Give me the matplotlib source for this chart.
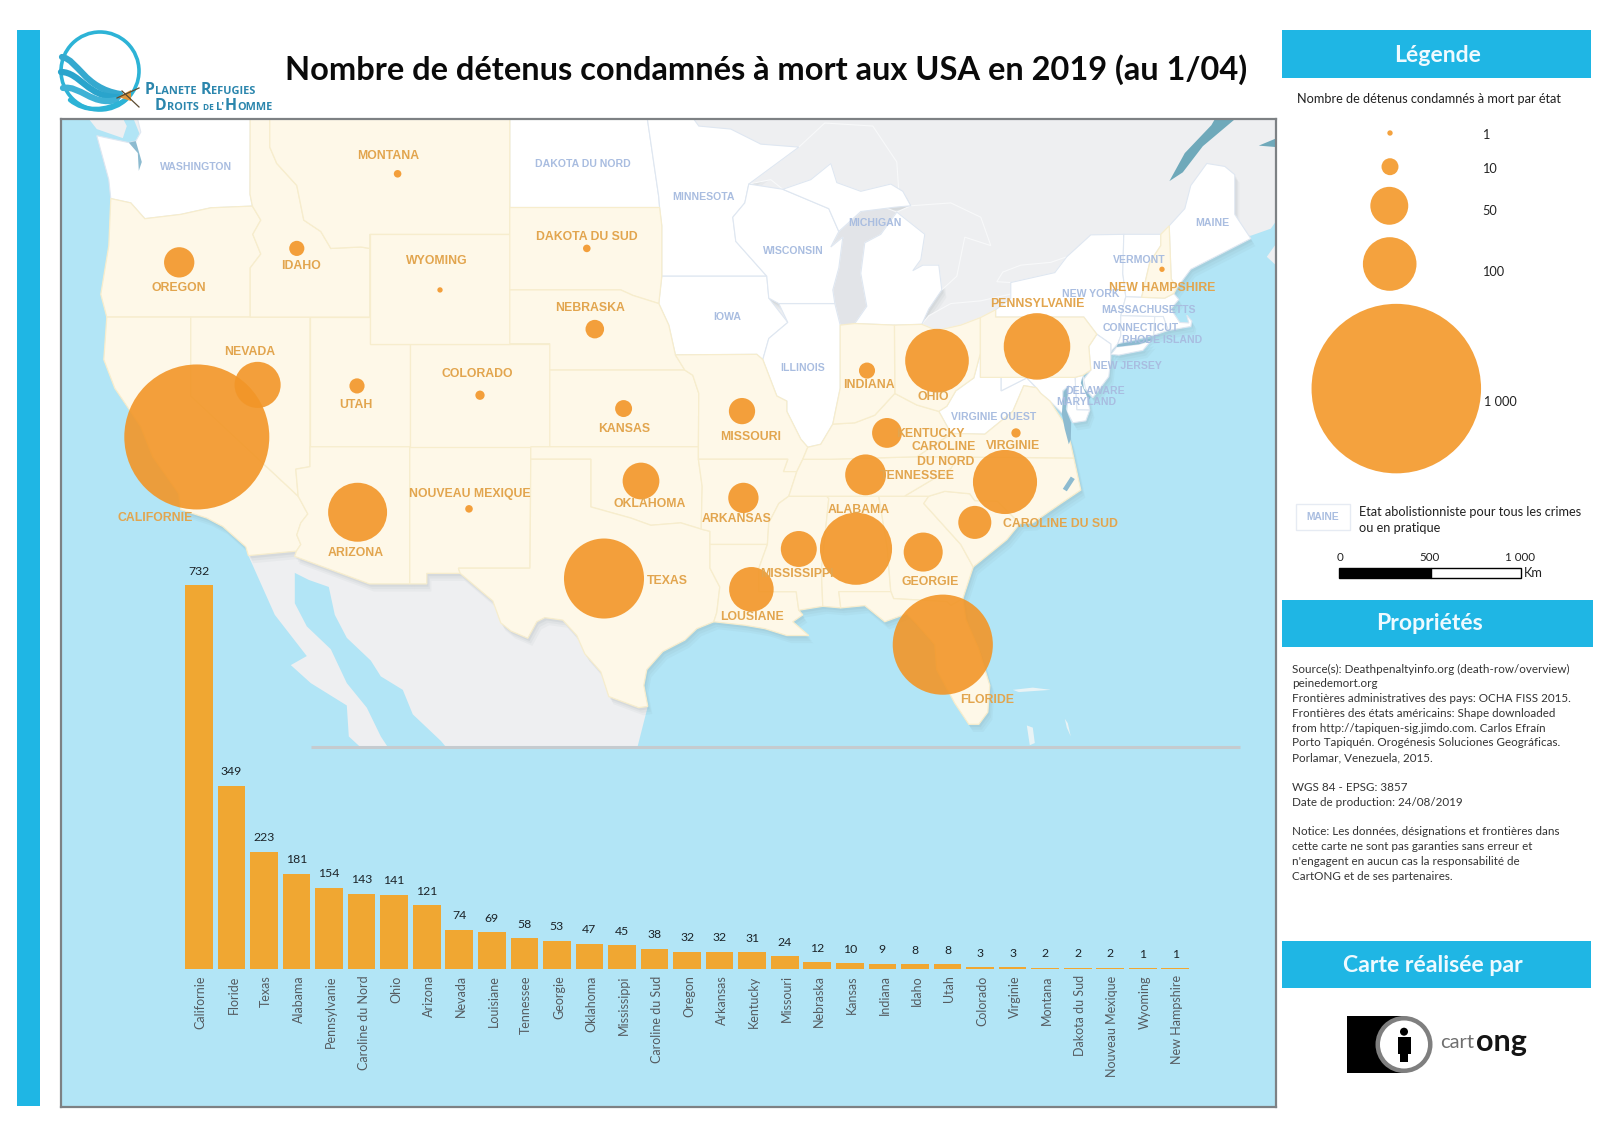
import numpy as np
import matplotlib
matplotlib.use("Agg")
import matplotlib.pyplot as plt
from matplotlib.patches import Circle, Polygon, Rectangle, PathPatch
from matplotlib.path import Path
from matplotlib.transforms import ScaledTranslation

# ---------- data ----------
states = ["Californie","Floride","Texas","Alabama","Pennsylvanie","Caroline du Nord","Ohio","Arizona",
          "Nevada","Louisiane","Tennessee","Georgie","Oklahoma","Mississippi","Caroline du Sud","Oregon",
          "Arkansas","Kentucky","Missouri","Nebraska","Kansas","Indiana","Idaho","Utah","Colorado",
          "Virginie","Montana","Dakota du Sud","Nouveau Mexique","Wyoming","New Hampshire"]
prisoners = [732,349,223,181,154,143,141,121,74,69,58,53,47,45,38,32,32,31,24,12,10,9,8,8,3,3,2,2,2,1,1]
# state location (longitude, latitude) of each bubble, same order as states
state_lon = [-119.7,-82.4,-99.34,-86.74,-77.69,-79.29,-82.69,-111.66,-116.66,-91.97,-86.26,-83.38,-97.49,
             -89.6,-80.8,-120.58,-92.37,-85.19,-92.44,-99.8,-98.36,-86.19,-114.7,-111.69,-105.54,-78.74,
             -109.66,-100.2,-106.09,-107.54,-71.44]
state_lat = [37.39,28.7,31.56,32.82,40.9,35.58,40.36,34.34,39.43,31.1,35.87,32.68,35.62,32.81,33.92,44.0,
             34.93,37.55,38.41,41.55,38.51,39.98,44.5,39.39,39.03,37.55,47.1,44.5,34.48,43.0,43.75]

legend_values = [1,10,50,100,1000]
legend_labels = ["1","10","50","100","1 000"]
scale_ticks = ["0","500","1 000"]

RETENTION = {
 "OR":[(-124,46.25),(-123,46.1),(-122.3,45.55),(-120.5,45.7),(-119,45.93),(-116.92,45.99),(-116.5,45.5),(-116.9,45),(-116.5,44.3),(-117.03,43.8),(-117.03,42),(-124.2,42),(-124.5,42.84),(-124.1,44.6)],
 "CA":[(-124.2,42),(-124.35,40.4),(-123.8,39.3),(-122.5,37.8),(-121.9,36.6),(-120.6,35.1),(-120.5,34.45),(-119.2,34.1),(-118.4,33.75),(-117.25,32.9),(-117.12,32.53),(-114.72,32.72),(-114.5,33),(-114.7,33.4),(-114.5,33.9),(-114.15,34.27),(-114.63,35),(-120,39),(-120,42)],
 "NV":[(-120,42),(-114.04,42),(-114.04,36.2),(-114.75,36.1),(-114.63,35),(-120,39)],
 "UT":[(-114.04,42),(-111.05,42),(-111.05,41),(-109.05,41),(-109.05,37),(-114.04,37)],
 "AZ":[(-114.04,37),(-109.05,37),(-109.05,31.33),(-111.07,31.33),(-114.81,32.5),(-114.72,32.72),(-114.5,33),(-114.7,33.4),(-114.5,33.9),(-114.15,34.27),(-114.63,35),(-114.75,36.1),(-114.04,36.2)],
 "NM":[(-109.05,37),(-103,37),(-103.04,32),(-106.62,32),(-106.53,31.78),(-108.2,31.78),(-108.2,31.33),(-109.05,31.33)],
 "CO":[(-109.05,41),(-102.05,41),(-102.05,37),(-109.05,37)],
 "WY":[(-111.05,45),(-104.05,45),(-104.05,41),(-111.05,41)],
 "ID":[(-117.03,49.2),(-116.05,49.2),(-116.05,48),(-115.7,47.45),(-114.7,46.7),(-114.35,45.5),(-113.5,45.1),(-113,44.5),(-111.5,44.55),(-111.05,44.5),(-111.05,42),(-117.03,42),(-117.03,43.8),(-116.5,44.3),(-116.9,45),(-116.5,45.5),(-116.92,45.99),(-117.04,46.4)],
 "MT":[(-116.05,49.2),(-104.05,49.2),(-104.05,45),(-111.05,45),(-111.05,44.5),(-111.5,44.55),(-113,44.5),(-113.5,45.1),(-114.35,45.5),(-114.7,46.7),(-115.7,47.45),(-116.05,48)],
 "SD":[(-104.05,45.94),(-96.56,45.94),(-96.45,45.3),(-96.45,43.5),(-96.6,42.5),(-97.9,42.8),(-98.5,43),(-104.05,43)],
 "NE":[(-104.05,43),(-98.5,43),(-97.9,42.8),(-96.6,42.5),(-96.1,41.7),(-95.77,40.58),(-95.3,40),(-102.05,40),(-102.05,41),(-104.05,41)],
 "KS":[(-102.05,40),(-95.3,40),(-94.9,39.8),(-94.6,39.1),(-94.62,37),(-102.05,37)],
 "OK":[(-103,37),(-94.62,37),(-94.62,36.5),(-94.43,35.4),(-94.48,33.64),(-95.5,33.9),(-97,33.8),(-98,34.1),(-100,34.56),(-100,36.5),(-103,36.5)],
 "TX":[(-103,36.5),(-100,36.5),(-100,34.56),(-98,34.1),(-97,33.8),(-95.5,33.9),(-94.48,33.64),(-94.04,33.55),(-94.04,33),(-94.04,32),(-93.55,31.2),(-93.7,30.1),(-93.85,29.7),(-94.7,29.4),(-95.3,28.9),(-96.4,28.4),(-97.2,27.6),(-97.35,26.9),(-97.15,25.96),(-97.6,25.9),(-99.1,26.4),(-99.5,27.5),(-100.3,28.3),(-100.7,29.1),(-101.4,29.77),(-102.3,29.88),(-102.7,29.7),(-103.15,28.98),(-104,29.3),(-104.5,29.65),(-104.9,30.6),(-106.53,31.78),(-106.62,32),(-103.04,32)],
 "MO":[(-95.77,40.58),(-91.7,40.6),(-91.4,40.4),(-90.7,39),(-90.2,38.8),(-90.2,38.4),(-89.5,37.3),(-89.15,36.98),(-89.4,36.5),(-89.7,36),(-90.37,36),(-90.15,36.5),(-94.62,36.5),(-94.62,37),(-94.6,39.1),(-94.9,39.8),(-95.3,40)],
 "AR":[(-94.62,36.5),(-90.15,36.5),(-90.37,36),(-89.7,36),(-90.1,35),(-90.6,34.7),(-91.1,33.9),(-91.17,33),(-94.04,33),(-94.04,33.55),(-94.48,33.64),(-94.43,35.4)],
 "LA":[(-94.04,33),(-91.17,33),(-91.6,31.99),(-91.6,31),(-89.73,31),(-89.6,30.2),(-89.4,30),(-89.9,29.7),(-89.1,29.1),(-90.2,29.1),(-91.3,29.4),(-92.3,29.55),(-93.85,29.7),(-93.7,30.1),(-93.55,31.2),(-94.04,32)],
 "MS":[(-91.17,33),(-91.1,33.9),(-90.6,34.7),(-90.1,35),(-88.2,35),(-88.1,34.9),(-88.47,31.9),(-88.4,30.37),(-89.6,30.2),(-89.73,31),(-91.6,31),(-91.6,31.99)],
 "AL":[(-88.2,35),(-85.6,35),(-85.18,32.87),(-85,31),(-87.6,31),(-87.5,30.3),(-88.4,30.37),(-88.47,31.9),(-88.1,34.9)],
 "GA":[(-85.6,35),(-83.1,35),(-83.35,34.7),(-81.5,33),(-80.88,32.05),(-81.4,30.7),(-82,30.4),(-82.2,30.57),(-84.86,30.7),(-85,31),(-85.18,32.87)],
 "FL":[(-87.6,31),(-85,31),(-84.86,30.7),(-82.2,30.57),(-82,30.4),(-81.4,30.7),(-81.25,29.8),(-80.6,28.5),(-80.05,26.9),(-80.15,25.7),(-80.6,25.15),(-81.1,25.15),(-81.8,26.1),(-82.7,27.6),(-82.8,28.7),(-83.7,29.6),(-84.2,30.05),(-85.3,29.7),(-86.3,30.4),(-87.5,30.3)],
 "SC":[(-83.35,34.7),(-83.1,35),(-82.3,35.2),(-81.05,35.1),(-80.8,34.82),(-79.67,34.8),(-78.55,33.87),(-79.2,33.2),(-80.88,32.05),(-81.5,33)],
 "NC":[(-84.32,35),(-83.1,35),(-82.3,35.2),(-81.05,35.1),(-80.8,34.82),(-79.67,34.8),(-78.55,33.87),(-77.9,33.9),(-76.5,34.7),(-75.5,35.25),(-75.85,36.55),(-81.68,36.59),(-82,36.12)],
 "TN":[(-90.1,35),(-89.7,36),(-89.4,36.5),(-88.05,36.5),(-83.68,36.6),(-81.68,36.59),(-82,36.12),(-84.32,35),(-85.6,35),(-88.2,35)],
 "KY":[(-89.4,36.5),(-89.15,36.98),(-88.5,37.1),(-87.9,37.9),(-86.8,37.95),(-85.8,38.25),(-84.8,39.1),(-83.7,38.65),(-82.6,38.4),(-82,37.55),(-81.96,37.53),(-83.68,36.6),(-88.05,36.5)],
 "VA":[(-83.68,36.6),(-81.68,36.59),(-75.85,36.55),(-76,37.1),(-76.3,37.9),(-77.04,38.8),(-77.5,39.1),(-77.72,39.32),(-78.35,39.4),(-78.9,38.4),(-80.3,37.5),(-81.96,37.53)],
 "OH":[(-84.82,41.7),(-83.45,41.73),(-82.7,41.5),(-81.5,41.7),(-80.52,41.98),(-80.52,40.64),(-80.85,39.7),(-81.75,39.2),(-82.2,38.6),(-82.6,38.4),(-83.7,38.65),(-84.8,39.1)],
 "IN":[(-87.53,41.7),(-86.8,41.76),(-84.82,41.7),(-84.8,39.1),(-85.8,38.25),(-86.8,37.95),(-87.9,37.9),(-87.53,39.3)],
 "PA":[(-80.52,41.98),(-79.76,42.27),(-79.76,42),(-75.35,42),(-74.7,41.36),(-75.1,40.9),(-75,40),(-75.4,39.8),(-75.79,39.72),(-80.52,39.72),(-80.52,40.64)],
 "NH":[(-71.5,45),(-71.08,45.3),(-70.98,43.4),(-70.7,43.07),(-70.85,42.87),(-71.3,42.7),(-72.46,42.73),(-72.05,44),(-71.5,44.6)],
}
ABOLITION = {
 "WA":[(-122.76,49.2),(-117.03,49.2),(-117.04,46.4),(-116.92,45.99),(-119,45.93),(-120.5,45.7),(-122.3,45.55),(-123,46.1),(-124,46.25),(-124.1,46.9),(-124.7,48.38),(-123.1,48.15),(-122.75,48.2),(-122.5,48.5)],
 "ND":[(-104.05,49.2),(-97.23,49.2),(-96.6,46.3),(-96.56,45.94),(-104.05,45.94)],
 "MN":[(-97.23,49.2),(-95.15,49.2),(-94.6,48.7),(-93,48.6),(-91.5,48.1),(-89.6,48),(-92.1,46.75),(-92.3,46.1),(-92.9,45.6),(-92.75,44.75),(-91.2,43.5),(-96.45,43.5),(-96.45,45.3),(-96.56,45.94),(-96.6,46.3)],
 "IA":[(-96.45,43.5),(-91.2,43.5),(-91.1,42.7),(-90.15,41.8),(-91.1,41.2),(-91.4,40.4),(-91.7,40.6),(-95.77,40.58),(-96.1,41.7),(-96.6,42.5)],
 "IL":[(-90.6,42.5),(-87.8,42.5),(-87.53,41.7),(-87.53,39.3),(-87.9,37.9),(-88.5,37.1),(-89.15,36.98),(-89.5,37.3),(-90.2,38.4),(-90.2,38.8),(-90.7,39),(-91.4,40.4),(-91.1,41.2),(-90.15,41.8)],
 "WI":[(-92.1,46.75),(-90.4,46.57),(-88.1,45.9),(-87.6,45.1),(-88,44.55),(-87.4,44.9),(-87.6,43.8),(-87.9,43),(-87.8,42.5),(-90.6,42.5),(-91.1,42.7),(-91.2,43.5),(-92.75,44.75),(-92.9,45.6),(-92.3,46.1)],
 "MI":[(-86.8,41.76),(-84.82,41.7),(-83.45,41.73),(-83.1,42.3),(-82.45,43),(-82.6,43.9),(-83.4,43.9),(-83.9,43.7),(-83.5,44.1),(-83.3,45),(-84.7,45.78),(-85.5,45),(-86.3,44.7),(-86.5,43.6),(-86.2,42.4)],
 "MI_up":[(-90.4,46.57),(-89,46.9),(-88,47.45),(-87.7,46.8),(-86.5,46.5),(-85,46.75),(-84.4,46.5),(-84,46),(-84.8,45.95),(-86.5,45.8),(-87.6,45.1),(-88.1,45.9)],
 "WV":[(-82.6,38.4),(-82,37.55),(-81.96,37.53),(-80.3,37.5),(-78.9,38.4),(-78.35,39.4),(-77.72,39.32),(-78.2,39.7),(-79.48,39.2),(-79.48,39.72),(-80.52,39.72),(-80.52,40.64),(-80.85,39.7),(-81.75,39.2),(-82.2,38.6)],
 "NY":[(-79.76,42.27),(-79,42.7),(-79,43.27),(-76.8,43.63),(-76.2,44.2),(-75,44.98),(-73.35,45),(-73.4,43.6),(-73.25,42.75),(-73.5,42.05),(-73.5,41.3),(-73.65,41),(-74,40.7),(-74,40.99),(-74.7,41.36),(-75.35,42),(-79.76,42)],
 "NY_li":[(-74,40.6),(-73.7,40.88),(-72.6,40.98),(-72,41.1),(-72.4,40.75),(-73.6,40.57)],
 "VT":[(-73.35,45),(-71.5,45),(-71.5,44.6),(-72.05,44),(-72.46,42.73),(-73.25,42.75),(-73.4,43.6)],
 "ME":[(-71.08,45.3),(-70.3,45.9),(-70,46.7),(-69.2,47.45),(-68.3,47.35),(-67.8,47.07),(-67.8,45.7),(-67,44.85),(-68.5,44.3),(-70,43.75),(-70.7,43.07),(-70.98,43.4)],
 "MA":[(-73.25,42.75),(-72.46,42.73),(-71.3,42.7),(-70.85,42.87),(-70.6,42.65),(-71,42.3),(-70.55,41.8),(-70.1,41.78),(-70.2,42.07),(-69.95,41.85),(-70,41.65),(-71.13,41.5),(-71.38,42.02),(-71.8,42.02),(-73.5,42.05)],
 "CT":[(-73.5,42.05),(-71.8,42.02),(-71.85,41.32),(-73.65,41),(-73.5,41.3)],
 "RI":[(-71.8,42.02),(-71.38,42.02),(-71.13,41.5),(-71.85,41.32)],
 "NJ":[(-74.7,41.36),(-74,40.99),(-74,40.45),(-74.1,39.75),(-74.9,38.93),(-75.5,39.5),(-75,40),(-75.1,40.9)],
 "DE":[(-75.79,39.72),(-75.4,39.8),(-75.05,38.45),(-75.7,38.46)],
 "MD":[(-79.48,39.72),(-75.79,39.72),(-75.7,38.46),(-75.05,38.45),(-75.25,38.03),(-75.9,37.95),(-76.2,38.4),(-76.1,39.4),(-76.4,39.2),(-76.4,38.3),(-77.04,38.8),(-77.5,39.1),(-77.72,39.32),(-78.2,39.7),(-79.48,39.2)],
}
CANADA = [(-122.9,49),(-122.9,49.6),(-64,49.6),(-64,45.6),(-65.7,45.5),(-66,45.2),(-67,44.95),(-70,45),(-75,42),(-90,40),(-100,46),(-122,47.5)]
VANCOUVER = [(-125.9,49.6),(-124.7,48.6),(-123.4,48.3),(-123.2,48.7),(-123.9,49.6)]
NOVA_SCOTIA = [(-64,45.2),(-65.75,44.65),(-66.2,44.2),(-65.3,43.6),(-64,44.2)]
MEXICO = [(-117.12,32.53),(-114.72,32.72),(-114.81,32.5),(-111.07,31.33),(-108.2,31.33),(-108.2,31.78),(-106.53,31.78),(-104.9,30.6),(-104.5,29.65),(-104,29.3),(-103.15,28.98),(-102.7,29.7),(-102.3,29.88),(-101.4,29.77),(-100.7,29.1),(-100.3,28.3),(-99.5,27.5),(-99.1,26.4),(-97.6,25.9),(-97.15,25.96),(-97.7,24),(-97.8,22),(-105,22),(-106.4,23.2),(-107.5,24.4),(-108.9,25.6),(-109.4,26.7),(-110.5,27.3),(-111,28),(-112.2,29),(-112.8,30),(-113.1,31.2),(-114.1,31.5),(-114.8,31.8),(-114.8,30.5),(-114.2,29.5),(-113,28.5),(-112.2,27),(-111.2,25.9),(-110.5,24.6),(-109.5,23.2),(-110.2,23),(-112.1,24.6),(-112.2,26),(-114,27),(-115,27.8),(-114.2,28.2),(-115.8,30)]
LAKES = {
 "Superior":[(-92.1,46.75),(-91,46.9),(-90.4,46.57),(-89,46.9),(-88,47.45),(-87.7,46.8),(-86.5,46.5),(-85,46.75),(-84.6,46.5),(-84.7,47.5),(-85.9,48.7),(-88.3,48.8),(-89.6,48),(-91,47.3)],
 "Huron":[(-84.7,45.78),(-83.3,45),(-83.5,44.1),(-83.9,43.7),(-83.4,43.9),(-82.6,43.9),(-82.45,43),(-81.7,43.5),(-81.3,44.9),(-80,44.6),(-80.5,45.6),(-82,46.1),(-84,46)],
 "Erie":[(-83.45,41.73),(-83.1,42.05),(-82,42.5),(-80.5,42.6),(-79,42.85),(-79,42.7),(-79.76,42.27),(-80.52,41.98),(-81.5,41.7),(-82.7,41.5)],
 "Ontario":[(-79.7,43.3),(-79,43.27),(-76.8,43.63),(-76.2,44.2),(-77,44),(-78.5,43.9),(-79.4,43.65)],
}
LAKE_MICHIGAN = [(-86.5,45.8),(-87.6,45.1),(-88,44.55),(-87.4,44.9),(-87.6,43.8),(-87.9,43),(-87.8,42.5),(-87.53,41.7),(-87.2,41.65),(-86.8,41.76),(-86.2,42.4),(-86.5,43.6),(-86.3,44.7),(-85.5,45),(-84.7,45.78),(-85.5,46)]
RIVERS = {
 "StLawrence":[(-71.07,46.85),(-70.3,47.8),(-68.97,48.73),(-68.56,49.2),(-67.3,49.2),(-69.4,48.03),(-70.4,47.15)],
 "Chaleur":[(-66.6,48.05),(-65.7,48.3),(-65.7,48.0)],
}
SEA_CUTS = {
 "Puget":[(-123.1,48.15),(-122.75,48.2),(-122.45,47.5),(-122.6,47.2),(-122.65,47.8)],
 "Chesapeake":[(-76.1,39.4),(-76.35,39.15),(-76.45,38.3),(-76.3,37.7),(-76.1,37.1),(-76,37.3),(-75.98,37.95),(-76.25,38.5)],
 "Delaware":[(-75.5,39.5),(-75.42,39.75),(-75.35,39.3),(-75,38.95),(-75.1,38.85)],
 "LongIslandS":[(-73.65,40.98),(-72,41.2),(-72,41.12),(-72.6,40.98),(-73.7,40.88)],
 "Pamlico":[(-76.2,35.2),(-75.8,35.7),(-76,35.8),(-76.4,35.3)],
}
ISLANDS = [[(-78.2,25.1),(-77.9,25),(-77.8,24.3),(-78.05,24.2)],[(-77.9,26.8),(-77,26.7),(-78.6,26.6),(-78.9,26.7)],[(-76.3,25.4),(-76.15,25.2),(-76,24.6),(-76.2,25)]]

# map labels (text, x px, y px)
retention_labels = [("MONTANA",388.6,155),("OREGON",178.4,287),("IDAHO",300.8,264.3),("WYOMING",437,259.7),
 ("DAKOTA DU SUD",586.5,235.7),("NEBRASKA",590,307),("NEVADA",250,351),("UTAH",355.5,403.3),("COLORADO",477.5,372.3),
 ("KANSAS",624.5,427.3),("OKLAHOMA",649.4,502.3),("NOUVEAU MEXIQUE",469.4,493),("CALIFORNIE",155,516.7),("ARIZONA",356,551.7),
 ("TEXAS",667,580),("PENNSYLVANIE",1037.5,303),("OHIO",933,395.7),("INDIANA",869,384),("MISSOURI",750.6,436),
 ("KENTUCKY",930.6,432.3),("CAROLINE",943.7,445.7),("DU NORD",946,460.3),("VIRGINIE",1012.7,445),("TENNESSEE",917.6,475),
 ("ALABAMA",859,508.3),("ARKANSAS",736.7,518),("MISSISSIPPI",797,572.7),("GEORGIE",929.8,580.3),("CAROLINE DU SUD",1060.4,522.3),
 ("NEW HAMPSHIRE",1162.4,286.7),("LOUSIANE",752,616.2),("FLORIDE",986.7,698.6)]
abolition_labels = [("WASHINGTON",196.3,165.7),("DAKOTA DU NORD",582.4,163),("MINNESOTA",703.7,195.3),("MICHIGAN",875,222),
 ("WISCONSIN",793.5,249.7),("IOWA",727,315.3),("ILLINOIS",803,367),("VERMONT",1139,259),("MAINE",1212,222),("NEW YORK",1091,292.7),
 ("MASSACHUSETTS",1149,309),("CONNECTICUT",1141,327),("RHODE ISLAND",1162.4,339),("NEW JERSEY",1127,364.7),("DELAWARE",1095,389.3),
 ("MARYLAND",1086,401),("VIRGINIE OUEST",993.5,416)]

props_lines = [("Source(s): Deathpenaltyinfo.org (death-row/overview)",669),("peinedemort.org",683.3),
 ("Frontières administratives des pays: OCHA FISS 2015.",698.3),("Frontières des états américains: Shape downloaded",713.3),
 ("from http://tapiquen-sig.jimdo.com. Carlos Efraín",728),("Porto Tapiquén. Orogénesis Soluciones Geográficas.",742.7),
 ("Porlamar, Venezuela, 2015.",757.7),("WGS 84 - EPSG: 3857",787.3),("Date de production: 24/08/2019",802.3),
 ("Notice: Les données, désignations et frontières dans",831.7),("cette carte ne sont pas garanties sans erreur et",846.7),
 ("n'engagent en aucun cas la responsabilité de",861.7),("CartONG et de ses partenaires.",876.7)]

# ---------- styles ----------
W, H = 1600, 1132
HEADER = "#1fb6e4"; SEA = "#b2e5f6"; LAND_GREY = "#eeeff1"; LAKE = "#e2e4e8"; CREAM = "#fef8e8"
BUBBLE = "#f29628"; BAR = "#f0a732"; ORANGE_TXT = "#e2a54e"; BLUE_TXT = "#a9bde0"
PX_PER_SQRT = 2.68
plt.rcParams["font.family"] = ["Lato", "DejaVu Sans"]

def merc(lat):
    return np.degrees(np.arcsinh(np.tan(np.radians(lat))))
def proj(pts):
    a = np.asarray(pts, float)
    return np.column_stack([a[:,0], merc(a[:,1])])

fig = plt.figure(figsize=(W/100, H/100), dpi=100, facecolor="white")
def px_axes(l, t, r, b, **kw):
    return fig.add_axes([l/W, 1-b/H, (r-l)/W, (b-t)/H], **kw)

# ---------- map ----------
ML, MT_, MR, MB = 61, 119, 1276, 1107
PPD = 20.0
ax = px_axes(ML, MT_, MR, MB, zorder=1, facecolor=SEA)
ax.set_xlim(-117.04+(ML-250)/PPD, -117.04+(MR-250)/PPD)
ax.set_ylim(39.88+(446.7-MB)/PPD, 39.88+(446.7-MT_)/PPD)
ax.set_xticks([]); ax.set_yticks([])
for s in ax.spines.values():
    s.set_color("#7d8184"); s.set_linewidth(1.6); s.set_zorder(20)

def fill(pts, fc, ec="none", lw=0.8, z=2, alpha=None, dx=0, dy=0):
    p = proj(pts) + [dx, dy]
    ax.add_patch(Polygon(p, closed=True, fc=fc, ec=ec, lw=lw, zorder=z, alpha=alpha))

fill(CANADA, LAND_GREY, z=2)
fill(VANCOUVER, LAND_GREY, z=2)
fill(NOVA_SCOTIA, LAND_GREY, z=2)
fill(MEXICO, LAND_GREY, z=2)
for pts in ISLANDS:
    fill(pts, "#e9f3f5", z=2)
for pts in RIVERS.values():
    fill(pts, "#6fa9ba", z=2.4)
# soft coastal drop shadow
for off, al in [(0.38, 0.05), (0.26, 0.06), (0.14, 0.08)]:
    for group in (RETENTION, ABOLITION):
        for pts in group.values():
            fill(pts, "#6c7a80", z=3, alpha=al, dx=off*0.6, dy=-off)
# the lakes take no shadow
for pts in LAKES.values():
    fill(pts, LAND_GREY, ec="#f8f9fa", lw=0.8, z=3.5)
fill(LAKE_MICHIGAN, LAKE, ec="#f4f5f7", lw=0.8, z=3.5)
for pts in ABOLITION.values():
    fill(pts, "white", ec="#dfe7f1", lw=0.8, z=4)
for pts in RETENTION.values():
    fill(pts, CREAM, ec="#f7edcd", lw=0.9, z=4.2)
for pts in SEA_CUTS.values():
    fill(pts, "#8dbbd0", z=4.5)

# lower panel hiding Mexico below the cut line
cut_y = 39.88 + (446.7-747)/PPD
x0, x1 = ax.get_xlim(); y0, y1 = ax.get_ylim()
ax.add_patch(Rectangle((x0, y0), x1-x0, cut_y-y0, fc=SEA, ec="none", zorder=5))
ax.plot([-117.04+(311-250)/PPD, -117.04+(1240-250)/PPD], [cut_y, cut_y], color="#c5cbcf", lw=2.2, zorder=5.1, solid_capstyle="butt")

# bubbles
for lon, lat, v in zip(state_lon, state_lat, prisoners):
    ax.add_patch(Circle((lon, merc(lat)), PX_PER_SQRT*np.sqrt(v)/PPD, fc=BUBBLE, ec="none", alpha=0.9, zorder=6))

# ---------- bar chart ----------
bax = px_axes(182.6, 585.2, 1191.6, 968.6, zorder=2)
bax.patch.set_alpha(0)
xpos = np.arange(len(states))
bax.bar(xpos, prisoners, width=0.85, color=BAR)
bax.set_xlim(-0.5, len(states)-0.5)
bax.set_ylim(0, 732)
bax.set_yticks([])
bax.set_xticks(xpos, states, rotation=90, fontsize=9.0, color="#555b60")
bax.tick_params(axis="x", length=0, pad=4.8)
for lab in bax.get_xticklabels():
    lab.set_transform(lab.get_transform() + ScaledTranslation(2/100, 0, fig.dpi_scale_trans))
for s in bax.spines.values():
    s.set_visible(False)
for x, v in zip(xpos, prisoners):
    bax.annotate(str(v), (x, v), xytext=(0, 14), textcoords="offset pixels", ha="center", va="center",
                 fontsize=8.8, color="#1c2328", annotation_clip=False)

# ---------- page overlay ----------
pg = fig.add_axes([0, 0, 1, 1], zorder=3)
pg.set_xlim(0, W); pg.set_ylim(H, 0); pg.axis("off")

for t, x, y in retention_labels:
    pg.text(x, y+1.3, t, ha="center", va="center", family="Liberation Sans", weight="bold", fontsize=8.8, color=ORANGE_TXT)
for t, x, y in abolition_labels:
    pg.text(x, y+1.3, t, ha="center", va="center", family="Liberation Sans", weight="bold", fontsize=7.6, color=BLUE_TXT)

pg.add_patch(Rectangle((16.7, 30), 23.3, 1076, fc=HEADER, ec="none"))
pg.text(285, 70, "Nombre de détenus condamnés à mort aux USA en 2019 (au 1/04)", ha="left", va="center",
        weight="bold", fontsize=23.4, color="#0a0a0a")

for (l, t, r, b, txt, cx, cy) in [(1282, 30, 1590.7, 77.5, "Légende", 1437.7, 55.5),
                                  (1282, 600, 1592.7, 647, "Propriétés", 1430, 624),
                                  (1282, 940.7, 1591, 988, "Carte réalisée par", 1433, 966)]:
    pg.add_patch(Rectangle((l, t), r-l, b-t, fc=HEADER, ec="none"))
    pg.text(cx, cy, txt, ha="center", va="center", weight="bold", fontsize=16.6, color="#eefaff")

# legend
pg.text(1296.7, 99, "Nombre de détenus condamnés à mort par état", ha="left", va="center", fontsize=9.2, color="#222222")
for v, lab, cx, cy, tx, ty in zip(legend_values, legend_labels,
                                  [1390, 1390, 1389.3, 1389.7, 1396.3], [133, 166.7, 205.8, 264, 388.6],
                                  [1482, 1482, 1482, 1482, 1484], [135, 168.7, 211, 272, 402.5]):
    pg.add_patch(Circle((cx, cy), PX_PER_SQRT*np.sqrt(v), fc="#f4a23e", ec="none"))
    pg.text(tx, ty, lab, ha="left", va="center", fontsize=9.2, color="#222222")
pg.add_patch(Rectangle((1296, 503.5), 54, 26.5, fc="white", ec="#e6ebf3", lw=1))
pg.text(1322.7, 516.5, "MAINE", ha="center", va="center", family="Liberation Sans", weight="bold", fontsize=7.4, color=BLUE_TXT)
pg.text(1359, 511.6, "Etat abolistionniste pour tous les crimes", ha="left", va="center", fontsize=9.2, color="#222222")
pg.text(1359, 527.7, "ou en pratique", ha="left", va="center", fontsize=9.2, color="#222222")
pg.add_patch(Rectangle((1339, 568), 92, 10, fc="black", ec="black", lw=1))
pg.add_patch(Rectangle((1431, 568), 89.7, 10, fc="white", ec="black", lw=1))
for t, x in zip(scale_ticks, [1340, 1430, 1520]):
    pg.text(x, 557.5, t, ha="center", va="center", fontsize=8.4, color="#222222")
pg.text(1524, 573, "Km", ha="left", va="center", fontsize=9.2, color="#222222")

# properties
for t, y in props_lines:
    pg.text(1292, y, t, ha="left", va="center", fontsize=8.4, color="#333333")

# cartONG logo
pg.add_patch(Rectangle((1347, 1016), 57, 57, fc="black", ec="none"))
pg.add_patch(Circle((1404, 1044.5), 28.5, fc="#7f7f7f", ec="none"))
pg.add_patch(Circle((1404, 1044.5), 24, fc="white", ec="none"))
pg.add_patch(Circle((1404, 1031.7), 4, fc="black", ec="none"))
pg.add_patch(Rectangle((1397.5, 1037), 13, 17, fc="black", ec="none"))
pg.add_patch(Rectangle((1400, 1050), 8, 12, fc="black", ec="none"))
pg.text(1440, 1043, "cart", ha="left", va="center", fontsize=14.5, color="#6f6f6f")
pg.text(1476, 1042, "ong", ha="left", va="center", weight="bold", fontsize=22, color="#141414")

# Planète Réfugiés logo
pg.add_patch(Circle((100, 71), 39, fc="none", ec="#2db3d6", lw=2.6))
def wave(p0, c1, c2, p3, lw, col):
    pg.add_patch(PathPatch(Path([p0, c1, c2, p3], [Path.MOVETO, Path.CURVE4, Path.CURVE4, Path.CURVE4]),
                           fc="none", ec=col, lw=lw, capstyle="round"))
wave((62, 57), (78, 60), (84, 88), (120, 94), 4.5, "#35a9cf")
wave((61, 72), (80, 72), (88, 98), (118, 97), 4.5, "#2aa4cc")
wave((63, 88), (80, 85), (92, 106), (116, 100), 4.5, "#3fb2d6")
wave((70, 100), (85, 112), (105, 112), (125, 100), 3.2, "#2db3d6")
pg.add_patch(Polygon([(118, 97), (131, 90), (131, 101)], closed=True, fc="#e0953a", ec="none"))
pg.plot([117, 139], [98, 88], color="#5a4a30", lw=0.9)
pg.plot([122, 139], [91, 107], color="#5a4a30", lw=0.9)

fig.canvas.draw()
rend = fig.canvas.get_renderer()
def smallcaps(x, y, parts, color="#2b86ad"):
    for t, size in parts:
        a = pg.text(x, y, t, ha="left", va="baseline", weight="bold", family="Open Sans", fontsize=size, color=color)
        x += a.get_window_extent(rend).width + 0.6
smallcaps(145, 94, [("P", 11.4), ("LANETE ", 7.9), ("R", 11.4), ("EFUGIES", 7.9)])
smallcaps(155, 110, [("D", 11.4), ("ROITS ", 7.8), ("DE ", 6), ("L'", 7.8), ("H", 11.4), ("OMME", 7.8)])

fig.savefig("out.png", dpi=100, facecolor="white")
